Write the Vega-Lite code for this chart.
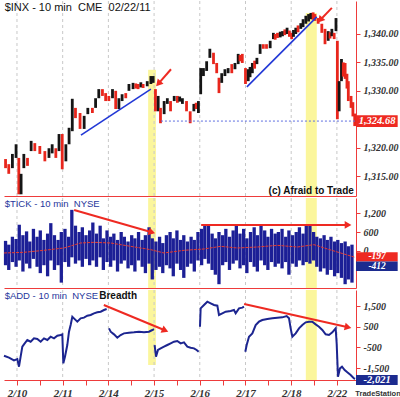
{
"$schema": "https://vega.github.io/schema/vega-lite/v6.json",
"padding": 0,
"spacing": 0,
"background": "white",
"config": {"view": {"stroke": null}, "font": "Liberation Sans", "axis": {"labelOverlap": false, "labelBound": false}},
"datasets": {
"days": [{"t":0},{"t":1},{"t":2},{"t":3},{"t":4},{"t":5},{"t":6},{"t":7}],
"price": [
{"t":-0.25,"lo":1316.4,"hi":1318.0,"dir":"d"},{"t":-0.18,"lo":1315.4,"hi":1317.1,"dir":"d"},{"t":-0.10,"lo":1316.4,"hi":1318.9,"dir":"u"},{"t":-0.02,"lo":1318.2,"hi":1320.6,"dir":"u"},
{"t":0.04,"lo":1311.8,"hi":1318.2,"dir":"d"},{"t":0.09,"lo":1311.8,"hi":1315.4,"dir":"u"},{"t":0.15,"lo":1316.4,"hi":1318.9,"dir":"u"},{"t":0.23,"lo":1316.8,"hi":1318.2,"dir":"d"},
{"t":0.31,"lo":1319.4,"hi":1321.2,"dir":"u"},{"t":0.39,"lo":1319.4,"hi":1320.8,"dir":"d"},{"t":0.50,"lo":1318.9,"hi":1320.3,"dir":"d"},{"t":0.61,"lo":1317.6,"hi":1319.4,"dir":"d"},
{"t":0.70,"lo":1318.2,"hi":1319.9,"dir":"u"},{"t":0.77,"lo":1319.0,"hi":1320.6,"dir":"u"},{"t":0.85,"lo":1318.2,"hi":1319.9,"dir":"d"},{"t":0.92,"lo":1319.4,"hi":1322.4,"dir":"u"},
{"t":0.99,"lo":1316.2,"hi":1322.4,"dir":"d"},{"t":1.07,"lo":1317.6,"hi":1320.6,"dir":"u"},{"t":1.14,"lo":1320.6,"hi":1323.5,"dir":"u"},{"t":1.21,"lo":1322.9,"hi":1328.6,"dir":"u"},
{"t":1.28,"lo":1325.2,"hi":1327.0,"dir":"d"},{"t":1.38,"lo":1323.3,"hi":1326.1,"dir":"d"},{"t":1.47,"lo":1323.3,"hi":1325.6,"dir":"u"},{"t":1.55,"lo":1325.9,"hi":1327.0,"dir":"u"},
{"t":1.65,"lo":1326.1,"hi":1327.0,"dir":"d"},{"t":1.72,"lo":1327.0,"hi":1328.7,"dir":"u"},{"t":1.79,"lo":1328.7,"hi":1330.3,"dir":"u"},{"t":1.87,"lo":1329.1,"hi":1330.3,"dir":"d"},
{"t":1.94,"lo":1328.2,"hi":1329.6,"dir":"d"},{"t":2.01,"lo":1328.2,"hi":1329.1,"dir":"d"},{"t":2.09,"lo":1328.7,"hi":1330.3,"dir":"u"},{"t":2.16,"lo":1326.8,"hi":1330.0,"dir":"d"},
{"t":2.23,"lo":1326.8,"hi":1328.7,"dir":"u"},{"t":2.30,"lo":1328.2,"hi":1329.4,"dir":"u"},{"t":2.38,"lo":1328.7,"hi":1329.6,"dir":"d"},{"t":2.45,"lo":1330.0,"hi":1331.2,"dir":"u"},
{"t":2.54,"lo":1330.3,"hi":1331.4,"dir":"u"},{"t":2.60,"lo":1330.4,"hi":1331.3,"dir":"d"},{"t":2.65,"lo":1330.3,"hi":1331.2,"dir":"d"},{"t":2.71,"lo":1330.6,"hi":1331.5,"dir":"u"},{"t":2.76,"lo":1330.5,"hi":1331.2,"dir":"d"},{"t":2.85,"lo":1330.8,"hi":1331.7,"dir":"u"},
{"t":2.93,"lo":1331.2,"hi":1332.6,"dir":"u"},{"t":2.98,"lo":1331.4,"hi":1332.6,"dir":"u"},{"t":3.03,"lo":1326.4,"hi":1330.3,"dir":"d"},{"t":3.09,"lo":1326.4,"hi":1329.1,"dir":"u"},
{"t":3.14,"lo":1324.3,"hi":1327.0,"dir":"d"},{"t":3.22,"lo":1325.9,"hi":1328.2,"dir":"u"},{"t":3.29,"lo":1327.7,"hi":1328.7,"dir":"u"},{"t":3.36,"lo":1326.4,"hi":1328.2,"dir":"d"},
{"t":3.44,"lo":1328.2,"hi":1329.1,"dir":"u"},{"t":3.51,"lo":1327.9,"hi":1329.1,"dir":"d"},{"t":3.56,"lo":1328.1,"hi":1329.0,"dir":"u"},{"t":3.62,"lo":1327.7,"hi":1328.7,"dir":"u"},{"t":3.71,"lo":1326.4,"hi":1328.2,"dir":"d"},
{"t":3.79,"lo":1324.3,"hi":1326.4,"dir":"d"},{"t":3.87,"lo":1326.4,"hi":1327.7,"dir":"u"},{"t":3.92,"lo":1326.8,"hi":1327.9,"dir":"d"},{"t":3.97,"lo":1326.1,"hi":1328.2,"dir":"u"},{"t":4.02,"lo":1329.4,"hi":1334.0,"dir":"u"},
{"t":4.08,"lo":1332.6,"hi":1334.0,"dir":"u"},{"t":4.15,"lo":1333.5,"hi":1335.2,"dir":"u"},{"t":4.22,"lo":1335.8,"hi":1337.4,"dir":"u"},{"t":4.30,"lo":1334.7,"hi":1336.7,"dir":"d"},
{"t":4.37,"lo":1333.1,"hi":1334.9,"dir":"d"},{"t":4.42,"lo":1329.6,"hi":1332.3,"dir":"d"},{"t":4.48,"lo":1331.4,"hi":1333.1,"dir":"u"},{"t":4.55,"lo":1332.6,"hi":1333.8,"dir":"u"},
{"t":4.62,"lo":1333.1,"hi":1334.0,"dir":"u"},{"t":4.70,"lo":1333.1,"hi":1334.7,"dir":"d"},{"t":4.77,"lo":1333.8,"hi":1334.9,"dir":"u"},{"t":4.84,"lo":1334.7,"hi":1336.5,"dir":"u"},
{"t":4.88,"lo":1335.2,"hi":1336.3,"dir":"d"},{"t":4.93,"lo":1334.9,"hi":1336.5,"dir":"d"},{"t":5.00,"lo":1331.2,"hi":1334.0,"dir":"d"},{"t":5.06,"lo":1331.7,"hi":1333.8,"dir":"u"},{"t":5.10,"lo":1332.4,"hi":1334.2,"dir":"u"},{"t":5.15,"lo":1333.1,"hi":1334.9,"dir":"u"},
{"t":5.20,"lo":1333.9,"hi":1335.3,"dir":"d"},{"t":5.25,"lo":1334.7,"hi":1335.8,"dir":"u"},{"t":5.32,"lo":1336.5,"hi":1338.2,"dir":"u"},{"t":5.39,"lo":1337.4,"hi":1338.2,"dir":"d"},{"t":5.46,"lo":1337.4,"hi":1338.2,"dir":"d"},
{"t":5.54,"lo":1337.5,"hi":1338.8,"dir":"u"},{"t":5.61,"lo":1339.1,"hi":1340.2,"dir":"u"},{"t":5.65,"lo":1339.0,"hi":1340.0,"dir":"d"},{"t":5.70,"lo":1339.3,"hi":1340.2,"dir":"d"},{"t":5.76,"lo":1339.4,"hi":1340.4,"dir":"u"},{"t":5.81,"lo":1339.6,"hi":1340.5,"dir":"u"},
{"t":5.86,"lo":1339.8,"hi":1340.8,"dir":"d"},{"t":5.91,"lo":1340.0,"hi":1341.1,"dir":"u"},{"t":5.96,"lo":1339.5,"hi":1340.6,"dir":"d"},{"t":6.01,"lo":1339.1,"hi":1340.2,"dir":"d"},{"t":6.05,"lo":1339.5,"hi":1340.7,"dir":"u"},{"t":6.10,"lo":1340.0,"hi":1341.1,"dir":"u"},
{"t":6.15,"lo":1340.3,"hi":1341.5,"dir":"d"},{"t":6.21,"lo":1340.9,"hi":1341.9,"dir":"u"},{"t":6.26,"lo":1341.2,"hi":1342.6,"dir":"u"},{"t":6.32,"lo":1341.8,"hi":1343.2,"dir":"u"},{"t":6.38,"lo":1342.2,"hi":1343.5,"dir":"u"},{"t":6.43,"lo":1342.6,"hi":1343.7,"dir":"u"},
{"t":6.48,"lo":1342.5,"hi":1343.8,"dir":"d"},{"t":6.52,"lo":1342.3,"hi":1343.5,"dir":"d"},{"t":6.59,"lo":1341.8,"hi":1342.8,"dir":"d"},
{"t":6.67,"lo":1340.2,"hi":1341.8,"dir":"d"},{"t":6.74,"lo":1338.2,"hi":1340.9,"dir":"d"},{"t":6.81,"lo":1338.8,"hi":1340.5,"dir":"u"},{"t":6.85,"lo":1339.2,"hi":1340.3,"dir":"d"},{"t":6.89,"lo":1339.6,"hi":1340.9,"dir":"u"},
{"t":6.94,"lo":1339.1,"hi":1340.2,"dir":"d"},{"t":6.98,"lo":1340.5,"hi":1342.8,"dir":"u"},{"t":7.01,"lo":1325.0,"hi":1338.8,"dir":"d"},{"t":7.05,"lo":1326.4,"hi":1331.7,"dir":"u"},
{"t":7.10,"lo":1331.7,"hi":1335.6,"dir":"u"},{"t":7.14,"lo":1332.5,"hi":1335.0,"dir":"d"},{"t":7.18,"lo":1332.1,"hi":1334.9,"dir":"d"},{"t":7.22,"lo":1330.4,"hi":1333.0,"dir":"d"},{"t":7.25,"lo":1328.2,"hi":1331.7,"dir":"d"},{"t":7.31,"lo":1327.0,"hi":1329.1,"dir":"d"},
{"t":7.35,"lo":1325.5,"hi":1328.0,"dir":"d"},{"t":7.39,"lo":1323.8,"hi":1326.0,"dir":"d"}
],
"bands1": [{"t":2.87,"t2":3.04,"lo":1311.5,"hi":1333.7},{"t":6.32,"t2":6.56,"lo":1311.5,"hi":1343.7}],
"lines1": [{"t":1.40,"p":1322.2,"t2":2.93,"p2":1330.3},{"t":5.03,"p":1330.7,"t2":6.56,"p2":1343.0}],
"dotted1": [{"t":3.15,"p":1324.68,"t2":7.418,"p2":1324.68}],
"arrows1": [{"t":3.37,"p":1333.8,"t2":3.11,"p2":1331.4},{"t":6.89,"p":1344.6,"t2":6.65,"p2":1342.6}],
"title1": [{"t":-0.27,"p":1344.6,"label":"$INX - 10 min\u00a0 CME\u00a0 02/22/11"}],
"copy1": [{"t":7.37,"p":1312.4,"label":"(c) Afraid to Trade"}],
"box1": [{"t":7.418,"t2":8.33,"lo":1323.65,"hi":1325.7,"p":1324.68,"tc":7.88,"label":"1,324.68"}],
"tick": [
{"t":-0.25,"lo":-450,"hi":320},{"t":-0.18,"lo":-600,"hi":200},{"t":-0.10,"lo":-350,"hi":450},{"t":-0.02,"lo":-500,"hi":380},{"t":0.05,"lo":-300,"hi":830},
{"t":0.13,"lo":-650,"hi":500},{"t":0.21,"lo":-400,"hi":620},{"t":0.28,"lo":-550,"hi":300},{"t":0.36,"lo":-250,"hi":700},{"t":0.44,"lo":-500,"hi":450},
{"t":0.51,"lo":-700,"hi":650},{"t":0.59,"lo":-450,"hi":350},{"t":0.67,"lo":-800,"hi":550},{"t":0.74,"lo":-300,"hi":880},{"t":0.82,"lo":-600,"hi":500},
{"t":0.90,"lo":-450,"hi":350},{"t":0.97,"lo":-1000,"hi":600},{"t":1.05,"lo":-350,"hi":700},{"t":1.13,"lo":-500,"hi":450},{"t":1.20,"lo":-200,"hi":1300},
{"t":1.28,"lo":-400,"hi":800},{"t":1.36,"lo":-300,"hi":600},{"t":1.43,"lo":-500,"hi":750},{"t":1.51,"lo":-250,"hi":500},{"t":1.59,"lo":-450,"hi":650},
{"t":1.66,"lo":-300,"hi":900},{"t":1.74,"lo":-500,"hi":550},{"t":1.82,"lo":-200,"hi":800},{"t":1.89,"lo":-600,"hi":400},{"t":1.97,"lo":-350,"hi":650},
{"t":2.05,"lo":-500,"hi":450},{"t":2.12,"lo":-300,"hi":550},{"t":2.20,"lo":-650,"hi":350},{"t":2.28,"lo":-400,"hi":600},{"t":2.35,"lo":-300,"hi":450},
{"t":2.43,"lo":-550,"hi":300},{"t":2.51,"lo":-450,"hi":500},{"t":2.58,"lo":-650,"hi":400},{"t":2.66,"lo":-300,"hi":600},{"t":2.74,"lo":-500,"hi":350},
{"t":2.81,"lo":-700,"hi":500},{"t":2.89,"lo":-400,"hi":750},{"t":2.96,"lo":-900,"hi":400},{"t":3.04,"lo":-600,"hi":300},{"t":3.12,"lo":-500,"hi":450},
{"t":3.19,"lo":-700,"hi":250},{"t":3.27,"lo":-450,"hi":500},{"t":3.35,"lo":-550,"hi":600},{"t":3.42,"lo":-800,"hi":400},{"t":3.50,"lo":-400,"hi":650},
{"t":3.58,"lo":-600,"hi":350},{"t":3.65,"lo":-850,"hi":500},{"t":3.73,"lo":-500,"hi":300},{"t":3.81,"lo":-400,"hi":450},{"t":3.88,"lo":-650,"hi":350},
{"t":3.96,"lo":-300,"hi":600},{"t":4.04,"lo":-450,"hi":700},{"t":4.11,"lo":-250,"hi":850},{"t":4.19,"lo":-400,"hi":800},{"t":4.27,"lo":-600,"hi":550},
{"t":4.34,"lo":-750,"hi":400},{"t":4.42,"lo":-1050,"hi":600},{"t":4.50,"lo":-450,"hi":500},{"t":4.57,"lo":-350,"hi":700},{"t":4.65,"lo":-600,"hi":450},
{"t":4.73,"lo":-400,"hi":650},{"t":4.80,"lo":-300,"hi":800},{"t":4.88,"lo":-550,"hi":550},{"t":4.96,"lo":-450,"hi":700},{"t":5.03,"lo":-700,"hi":400},
{"t":5.11,"lo":-350,"hi":600},{"t":5.19,"lo":-500,"hi":750},{"t":5.26,"lo":-650,"hi":500},{"t":5.34,"lo":-300,"hi":800},{"t":5.42,"lo":-450,"hi":650},
{"t":5.49,"lo":-600,"hi":450},{"t":5.57,"lo":-350,"hi":700},{"t":5.65,"lo":-500,"hi":550},{"t":5.72,"lo":-400,"hi":600},{"t":5.80,"lo":-550,"hi":700},
{"t":5.88,"lo":-350,"hi":450},{"t":5.95,"lo":-750,"hi":650},{"t":6.03,"lo":-400,"hi":500},{"t":6.11,"lo":-500,"hi":600},{"t":6.18,"lo":-300,"hi":750},
{"t":6.26,"lo":-450,"hi":550},{"t":6.33,"lo":-350,"hi":850},{"t":6.41,"lo":-400,"hi":800},{"t":6.49,"lo":-300,"hi":600},{"t":6.56,"lo":-500,"hi":450},
{"t":6.64,"lo":-650,"hi":400},{"t":6.72,"lo":-550,"hi":500},{"t":6.79,"lo":-750,"hi":350},{"t":6.87,"lo":-600,"hi":450},{"t":6.95,"lo":-800,"hi":300},
{"t":7.02,"lo":-700,"hi":350},{"t":7.10,"lo":-850,"hi":250},{"t":7.18,"lo":-1050,"hi":300},{"t":7.25,"lo":-900,"hi":150},{"t":7.33,"lo":-1000,"hi":200}
],
"tickma": [
{"t":-0.284,"v":-63},{"t":0.153,"v":-42},{"t":0.591,"v":21},{"t":1.028,"v":95},{"t":1.393,"v":253},{"t":1.685,"v":274},{"t":2.050,"v":253},
{"t":2.487,"v":147},{"t":2.925,"v":42},{"t":3.217,"v":-63},{"t":3.654,"v":21},{"t":4.092,"v":63},{"t":4.457,"v":147},{"t":4.821,"v":95},
{"t":5.259,"v":126},{"t":5.697,"v":179},{"t":6.134,"v":126},{"t":6.499,"v":200},{"t":6.791,"v":63},{"t":7.082,"v":-63},{"t":7.39,"v":-197}
],
"bands2": [{"t":2.87,"t2":3.04},{"t":6.32,"t2":6.56}],
"arrows2a": [{"t":1.25,"v":1296,"t2":2.93,"v2":600}],
"arrows2b": [{"t":4.03,"v":822,"t2":7.22,"v2":822}],
"title2": [{"t":-0.27,"v":1485,"label":"$TICK - 10 min\u00a0 NYSE"}],
"box2a": [{"t":7.418,"t2":8.33,"lo":-330,"hi":-40,"v":-160,"tc":7.88,"label":"-197"}],
"box2b": [{"t":7.418,"t2":8.33,"lo":-630,"hi":-330,"v":-480,"tc":7.88,"label":"-412"}],
"add": [
{"seg":"a","t":-0.284,"v":-904},{"seg":"a","t":-0.175,"v":-1000},{"seg":"a","t":-0.066,"v":-1129},{"seg":"a","t":0.007,"v":-1065},{"seg":"a","t":0.044,"v":-1436},
{"seg":"a","t":0.080,"v":-952},{"seg":"a","t":0.117,"v":-468},{"seg":"a","t":0.153,"v":-355},{"seg":"a","t":0.226,"v":-145},{"seg":"a","t":0.299,"v":-226},
{"seg":"a","t":0.372,"v":-65},{"seg":"a","t":0.445,"v":-97},{"seg":"a","t":0.518,"v":-226},{"seg":"a","t":0.591,"v":-65},{"seg":"a","t":0.664,"v":-145},
{"seg":"a","t":0.737,"v":16},{"seg":"a","t":0.810,"v":-65},{"seg":"a","t":0.883,"v":64},{"seg":"a","t":0.956,"v":97},{"seg":"a","t":0.992,"v":129},
{"seg":"a","t":1.014,"v":-1275},{"seg":"a","t":1.050,"v":-952},{"seg":"a","t":1.101,"v":-387},{"seg":"a","t":1.138,"v":258},{"seg":"a","t":1.174,"v":581},
{"seg":"a","t":1.211,"v":984},{"seg":"a","t":1.247,"v":904},{"seg":"a","t":1.320,"v":742},{"seg":"a","t":1.393,"v":904},{"seg":"a","t":1.466,"v":936},
{"seg":"a","t":1.539,"v":1032},{"seg":"a","t":1.612,"v":1065},{"seg":"a","t":1.685,"v":1145},{"seg":"a","t":1.758,"v":1194},{"seg":"a","t":1.831,"v":1226},
{"seg":"a","t":1.904,"v":1307},{"seg":"a","t":1.962,"v":1355},
{"seg":"b","t":2.013,"v":419},{"seg":"b","t":2.050,"v":258},{"seg":"b","t":2.123,"v":129},{"seg":"b","t":2.195,"v":-32},{"seg":"b","t":2.268,"v":97},
{"seg":"b","t":2.341,"v":177},{"seg":"b","t":2.451,"v":210},{"seg":"b","t":2.560,"v":226},{"seg":"b","t":2.670,"v":258},{"seg":"b","t":2.779,"v":226},
{"seg":"b","t":2.888,"v":258},{"seg":"b","t":2.961,"v":339},{"seg":"b","t":2.998,"v":387},
{"seg":"c","t":3.012,"v":-387},{"seg":"c","t":3.042,"v":-952},{"seg":"c","t":3.085,"v":-629},{"seg":"c","t":3.144,"v":-549},{"seg":"c","t":3.217,"v":-468},
{"seg":"c","t":3.290,"v":-387},{"seg":"c","t":3.363,"v":-307},{"seg":"c","t":3.435,"v":-226},{"seg":"c","t":3.508,"v":-194},{"seg":"c","t":3.581,"v":-307},
{"seg":"c","t":3.654,"v":-258},{"seg":"c","t":3.727,"v":-468},{"seg":"c","t":3.800,"v":-516},{"seg":"c","t":3.873,"v":-549},{"seg":"c","t":3.931,"v":-629},
{"seg":"c","t":3.975,"v":-710},
{"seg":"d","t":4.004,"v":500},{"seg":"d","t":4.019,"v":1387},{"seg":"d","t":4.092,"v":1549},{"seg":"d","t":4.165,"v":1710},{"seg":"d","t":4.238,"v":1629},
{"seg":"d","t":4.311,"v":1549},{"seg":"d","t":4.384,"v":1517},{"seg":"d","t":4.420,"v":1065},{"seg":"d","t":4.493,"v":1145},{"seg":"d","t":4.566,"v":1226},
{"seg":"d","t":4.675,"v":1258},{"seg":"d","t":4.748,"v":1307},{"seg":"d","t":4.785,"v":1145},{"seg":"d","t":4.858,"v":1387},{"seg":"d","t":4.931,"v":1420},
{"seg":"d","t":4.967,"v":1468},
{"seg":"e","t":4.996,"v":-710},{"seg":"e","t":5.026,"v":-387},{"seg":"e","t":5.077,"v":16},{"seg":"e","t":5.150,"v":177},{"seg":"e","t":5.223,"v":581},
{"seg":"e","t":5.295,"v":742},{"seg":"e","t":5.368,"v":823},{"seg":"e","t":5.478,"v":871},{"seg":"e","t":5.587,"v":904},{"seg":"e","t":5.697,"v":936},
{"seg":"e","t":5.806,"v":952},{"seg":"e","t":5.901,"v":1016},{"seg":"e","t":5.952,"v":904},{"seg":"e","t":5.988,"v":419},{"seg":"e","t":6.025,"v":16},
{"seg":"e","t":6.098,"v":177},{"seg":"e","t":6.171,"v":419},{"seg":"e","t":6.244,"v":581},{"seg":"e","t":6.317,"v":710},{"seg":"e","t":6.389,"v":742},
{"seg":"e","t":6.462,"v":742},{"seg":"e","t":6.535,"v":613},{"seg":"e","t":6.608,"v":500},{"seg":"e","t":6.681,"v":339},{"seg":"e","t":6.754,"v":129},
{"seg":"e","t":6.827,"v":97},{"seg":"e","t":6.900,"v":226},{"seg":"e","t":6.973,"v":419},{"seg":"e","t":6.995,"v":-307},{"seg":"e","t":7.024,"v":-1920},
{"seg":"e","t":7.068,"v":-1517},{"seg":"e","t":7.112,"v":-1436},{"seg":"e","t":7.170,"v":-1597},{"seg":"e","t":7.228,"v":-1710},{"seg":"e","t":7.301,"v":-1839},
{"seg":"e","t":7.374,"v":-2000},{"seg":"e","t":7.40,"v":-2021}
],
"bands3": [{"t":2.87,"t2":3.04,"lo":-1355,"hi":2275},{"t":6.32,"t2":6.56,"lo":-2080,"hi":2275}],
"arrows3a": [{"t":1.90,"v":1549,"t2":3.22,"v2":339}],
"arrows3b": [{"t":4.97,"v":1597,"t2":7.22,"v2":484}],
"title3": [{"t":-0.27,"v":1984,"label":"$ADD - 10 min\u00a0 NYSE"}],
"breadth3": [{"t":1.80,"v":1984,"label":"Breadth"}],
"box3": [{"t":7.418,"t2":8.33,"lo":-2320,"hi":-1840,"v":-2080,"tc":7.88,"label":"-2,021"}],
"brand3": [{"t":7.90,"v":-2759,"label":"TradeStation"}]
},
"vconcat": [
{
"width": 352, "height": 195,
"layer": [
{"data": {"name": "bands1"}, "mark": {"type": "rect", "color": "#fbf69c"},
 "encoding": {"x": {"field": "t", "type": "quantitative", "title": null}, "x2": {"field": "t2"},
  "y": {"field": "lo", "type": "quantitative", "title": null}, "y2": {"field": "hi"}}},
{"data": {"name": "days"}, "mark": {"type": "rule", "color": "#c8c8c8", "strokeDash": [3, 3], "strokeWidth": 1},
 "encoding": {"x": {"field": "t", "type": "quantitative", "title": null}}},
{"data": {"name": "price"}, "mark": {"type": "rule", "strokeWidth": 2.8},
 "encoding": {
  "x": {"field": "t", "type": "quantitative", "scale": {"domain": [-0.284, 7.418], "nice": false, "zero": false},
   "axis": {"orient": "bottom", "labels": false, "ticks": false, "grid": false, "title": null, "domainColor": "#ee3b3b", "domainWidth": 1}},
  "y": {"field": "lo", "type": "quantitative", "scale": {"domain": [1311.5, 1345.8], "nice": false, "zero": false},
   "axis": {"orient": "right", "values": [1315, 1320, 1330, 1335, 1340], "tickCount": 20, "format": ",.2f", "title": null, "grid": false, "domainColor": "#ee3b3b", "tickColor": "#ee3b3b", "tickSize": 4, "labelFont": "Liberation Serif", "labelFontStyle": "italic", "labelFontWeight": "bold", "labelFontSize": 10, "labelColor": "#333333", "labelPadding": 3, "labelOverlap": false}},
  "y2": {"field": "hi"},
  "color": {"field": "dir", "type": "nominal", "scale": {"domain": ["u", "d"], "range": ["#151515", "#e8261c"]}, "legend": null}}},
{"data": {"name": "lines1"}, "mark": {"type": "rule", "color": "#2238d6", "strokeWidth": 1.6},
 "encoding": {"x": {"field": "t", "type": "quantitative", "title": null}, "x2": {"field": "t2"}, "y": {"field": "p", "type": "quantitative", "title": null}, "y2": {"field": "p2"}}},
{"data": {"name": "dotted1"}, "mark": {"type": "rule", "color": "#5f6fe0", "strokeWidth": 1, "strokeDash": [2, 2]},
 "encoding": {"x": {"field": "t", "type": "quantitative", "title": null}, "x2": {"field": "t2"}, "y": {"field": "p", "type": "quantitative", "title": null}, "y2": {"field": "p2"}}},
{"data": {"name": "arrows1"}, "mark": {"type": "rule", "color": "#ee2a22", "strokeWidth": 2},
 "encoding": {"x": {"field": "t", "type": "quantitative", "title": null}, "x2": {"field": "t2"}, "y": {"field": "p", "type": "quantitative", "title": null}, "y2": {"field": "p2"}}},
{"data": {"name": "arrows1"}, "mark": {"type": "point", "shape": "triangle", "angle": 222, "filled": true, "size": 60, "color": "#ee2a22", "opacity": 1},
 "encoding": {"x": {"field": "t2", "type": "quantitative", "title": null}, "y": {"field": "p2", "type": "quantitative", "title": null}}},
{"data": {"name": "title1"}, "mark": {"type": "text", "align": "left", "baseline": "middle", "fontSize": 11, "color": "#111111", "font": "Liberation Sans"},
 "encoding": {"x": {"field": "t", "type": "quantitative", "title": null}, "y": {"field": "p", "type": "quantitative", "title": null}, "text": {"field": "label"}}},
{"data": {"name": "copy1"}, "mark": {"type": "text", "align": "right", "baseline": "middle", "fontSize": 10, "fontWeight": "bold", "color": "#111111", "font": "Liberation Sans"},
 "encoding": {"x": {"field": "t", "type": "quantitative", "title": null}, "y": {"field": "p", "type": "quantitative", "title": null}, "text": {"field": "label"}}},
{"data": {"name": "box1"}, "mark": {"type": "rect", "color": "#ee2a22"},
 "encoding": {"x": {"field": "t", "type": "quantitative", "title": null}, "x2": {"field": "t2"}, "y": {"field": "lo", "type": "quantitative", "title": null}, "y2": {"field": "hi"}}},
{"data": {"name": "box1"}, "mark": {"type": "text", "align": "center", "baseline": "middle", "fontSize": 10.5, "fontStyle": "italic", "fontWeight": "bold", "font": "Liberation Serif", "color": "white"},
 "encoding": {"x": {"field": "tc", "type": "quantitative", "title": null}, "y": {"field": "p", "type": "quantitative", "title": null}, "text": {"field": "label"}}}
]
},
{
"width": 352, "height": 90,
"layer": [
{"data": {"name": "bands2"}, "mark": {"type": "rect", "color": "#fbf69c"},
 "encoding": {"x": {"field": "t", "type": "quantitative", "title": null}, "x2": {"field": "t2"}}},
{"data": {"name": "days"}, "mark": {"type": "rule", "color": "#c8c8c8", "strokeDash": [3, 3], "strokeWidth": 1},
 "encoding": {"x": {"field": "t", "type": "quantitative", "title": null}}},
{"data": {"name": "tick"}, "mark": {"type": "rule", "strokeWidth": 3.3, "color": "#1c1f96"},
 "encoding": {
  "x": {"field": "t", "type": "quantitative", "scale": {"domain": [-0.284, 7.418], "nice": false, "zero": false},
   "axis": {"orient": "bottom", "labels": false, "ticks": false, "grid": false, "title": null, "domainColor": "#ee3b3b", "domainWidth": 1}},
  "y": {"field": "lo", "type": "quantitative", "scale": {"domain": [-1170, 1675], "nice": false, "zero": false},
   "axis": {"orient": "right", "values": [0, 600, 1200], "tickCount": 20, "format": ",d", "title": null, "grid": false, "domainColor": "#ee3b3b", "tickColor": "#ee3b3b", "tickSize": 4, "labelFont": "Liberation Serif", "labelFontStyle": "italic", "labelFontWeight": "bold", "labelFontSize": 10, "labelColor": "#333333", "labelPadding": 3, "labelOverlap": false}},
  "y2": {"field": "hi"}}},
{"data": {"name": "tickma"}, "mark": {"type": "line", "color": "#e53a30", "strokeWidth": 1, "strokeDash": [3, 1]},
 "encoding": {"x": {"field": "t", "type": "quantitative", "title": null}, "y": {"field": "v", "type": "quantitative", "title": null}}},
{"data": {"name": "arrows2a"}, "mark": {"type": "rule", "color": "#ee2a22", "strokeWidth": 2},
 "encoding": {"x": {"field": "t", "type": "quantitative", "title": null}, "x2": {"field": "t2"}, "y": {"field": "v", "type": "quantitative", "title": null}, "y2": {"field": "v2"}}},
{"data": {"name": "arrows2a"}, "mark": {"type": "point", "shape": "triangle", "angle": 106, "filled": true, "size": 60, "color": "#ee2a22", "opacity": 1},
 "encoding": {"x": {"field": "t2", "type": "quantitative", "title": null}, "y": {"field": "v2", "type": "quantitative", "title": null}}},
{"data": {"name": "arrows2b"}, "mark": {"type": "rule", "color": "#ee2a22", "strokeWidth": 2},
 "encoding": {"x": {"field": "t", "type": "quantitative", "title": null}, "x2": {"field": "t2"}, "y": {"field": "v", "type": "quantitative", "title": null}, "y2": {"field": "v2"}}},
{"data": {"name": "arrows2b"}, "mark": {"type": "point", "shape": "triangle", "angle": 90, "filled": true, "size": 60, "color": "#ee2a22", "opacity": 1},
 "encoding": {"x": {"field": "t2", "type": "quantitative", "title": null}, "y": {"field": "v2", "type": "quantitative", "title": null}}},
{"data": {"name": "title2"}, "mark": {"type": "text", "align": "left", "baseline": "middle", "fontSize": 9.5, "color": "#26369c", "font": "Liberation Sans"},
 "encoding": {"x": {"field": "t", "type": "quantitative", "title": null}, "y": {"field": "v", "type": "quantitative", "title": null}, "text": {"field": "label"}}},
{"data": {"name": "box2a"}, "mark": {"type": "rect", "color": "#ee2a22"},
 "encoding": {"x": {"field": "t", "type": "quantitative", "title": null}, "x2": {"field": "t2"}, "y": {"field": "lo", "type": "quantitative", "title": null}, "y2": {"field": "hi"}}},
{"data": {"name": "box2a"}, "mark": {"type": "text", "align": "center", "baseline": "middle", "fontSize": 9.5, "fontStyle": "italic", "fontWeight": "bold", "font": "Liberation Serif", "color": "white"},
 "encoding": {"x": {"field": "tc", "type": "quantitative", "title": null}, "y": {"field": "v", "type": "quantitative", "title": null}, "text": {"field": "label"}}},
{"data": {"name": "box2b"}, "mark": {"type": "rect", "color": "#1c2b8f"},
 "encoding": {"x": {"field": "t", "type": "quantitative", "title": null}, "x2": {"field": "t2"}, "y": {"field": "lo", "type": "quantitative", "title": null}, "y2": {"field": "hi"}}},
{"data": {"name": "box2b"}, "mark": {"type": "text", "align": "center", "baseline": "middle", "fontSize": 9.5, "fontStyle": "italic", "fontWeight": "bold", "font": "Liberation Serif", "color": "white"},
 "encoding": {"x": {"field": "tc", "type": "quantitative", "title": null}, "y": {"field": "v", "type": "quantitative", "title": null}, "text": {"field": "label"}}}
]
},
{
"width": 352, "height": 90,
"layer": [
{"data": {"name": "bands3"}, "mark": {"type": "rect", "color": "#fbf69c"},
 "encoding": {"x": {"field": "t", "type": "quantitative", "title": null}, "x2": {"field": "t2"},
  "y": {"field": "lo", "type": "quantitative", "title": null}, "y2": {"field": "hi"}}},
{"data": {"name": "days"}, "mark": {"type": "rule", "color": "#c8c8c8", "strokeDash": [3, 3], "strokeWidth": 1},
 "encoding": {"x": {"field": "t", "type": "quantitative", "title": null}}},
{"data": {"name": "add"}, "mark": {"type": "line", "color": "#1c2590", "strokeWidth": 2},
 "encoding": {
  "x": {"field": "t", "type": "quantitative", "scale": {"domain": [-0.284, 7.418], "nice": false, "zero": false},
   "axis": {"orient": "bottom", "values": [0, 0.5, 1, 1.5, 2, 2.5, 3, 3.5, 4, 4.5, 5, 5.5, 6, 6.5, 7], "tickCount": 40, "labelExpr": "datum.value % 1 == 0 ? ['2/10','2/11','2/14','2/15','2/16','2/17','2/18','2/22'][datum.value] : ''", "grid": false, "title": null, "domainColor": "#ee3b3b", "tickColor": "#ee3b3b", "tickSize": 5, "labelFont": "Liberation Serif", "labelFontStyle": "italic", "labelFontWeight": "bold", "labelFontSize": 11, "labelColor": "#333333", "labelPadding": 2, "labelOverlap": false, "labelFlush": false}},
  "y": {"field": "v", "type": "quantitative", "scale": {"domain": [-2080, 2275], "nice": false, "zero": false},
   "axis": {"orient": "right", "values": [1500, 500, -500, -1500], "tickCount": 20, "format": ",d", "labelExpr": "replace(datum.label, '\u2212', '-')", "title": null, "grid": false, "domainColor": "#ee3b3b", "tickColor": "#ee3b3b", "tickSize": 4, "labelFont": "Liberation Serif", "labelFontStyle": "italic", "labelFontWeight": "bold", "labelFontSize": 10, "labelColor": "#333333", "labelPadding": 3, "labelOverlap": false, "labelBound": false}},
  "detail": {"field": "seg", "type": "nominal"}}},
{"data": {"name": "arrows3a"}, "mark": {"type": "rule", "color": "#ee2a22", "strokeWidth": 2},
 "encoding": {"x": {"field": "t", "type": "quantitative", "title": null}, "x2": {"field": "t2"}, "y": {"field": "v", "type": "quantitative", "title": null}, "y2": {"field": "v2"}}},
{"data": {"name": "arrows3a"}, "mark": {"type": "point", "shape": "triangle", "angle": 113, "filled": true, "size": 60, "color": "#ee2a22", "opacity": 1},
 "encoding": {"x": {"field": "t2", "type": "quantitative", "title": null}, "y": {"field": "v2", "type": "quantitative", "title": null}}},
{"data": {"name": "arrows3b"}, "mark": {"type": "rule", "color": "#ee2a22", "strokeWidth": 2},
 "encoding": {"x": {"field": "t", "type": "quantitative", "title": null}, "x2": {"field": "t2"}, "y": {"field": "v", "type": "quantitative", "title": null}, "y2": {"field": "v2"}}},
{"data": {"name": "arrows3b"}, "mark": {"type": "point", "shape": "triangle", "angle": 103, "filled": true, "size": 60, "color": "#ee2a22", "opacity": 1},
 "encoding": {"x": {"field": "t2", "type": "quantitative", "title": null}, "y": {"field": "v2", "type": "quantitative", "title": null}}},
{"data": {"name": "title3"}, "mark": {"type": "text", "align": "left", "baseline": "middle", "fontSize": 9.5, "color": "#26369c", "font": "Liberation Sans"},
 "encoding": {"x": {"field": "t", "type": "quantitative", "title": null}, "y": {"field": "v", "type": "quantitative", "title": null}, "text": {"field": "label"}}},
{"data": {"name": "breadth3"}, "mark": {"type": "text", "align": "left", "baseline": "middle", "fontSize": 10, "fontWeight": "bold", "color": "#111111", "font": "Liberation Sans"},
 "encoding": {"x": {"field": "t", "type": "quantitative", "title": null}, "y": {"field": "v", "type": "quantitative", "title": null}, "text": {"field": "label"}}},
{"data": {"name": "box3"}, "mark": {"type": "rect", "color": "#1c2b8f"},
 "encoding": {"x": {"field": "t", "type": "quantitative", "title": null}, "x2": {"field": "t2"}, "y": {"field": "lo", "type": "quantitative", "title": null}, "y2": {"field": "hi"}}},
{"data": {"name": "box3"}, "mark": {"type": "text", "align": "center", "baseline": "middle", "fontSize": 10.5, "fontStyle": "italic", "fontWeight": "bold", "font": "Liberation Serif", "color": "white"},
 "encoding": {"x": {"field": "tc", "type": "quantitative", "title": null}, "y": {"field": "v", "type": "quantitative", "title": null}, "text": {"field": "label"}}},
{"data": {"name": "brand3"}, "mark": {"type": "text", "align": "center", "baseline": "middle", "fontSize": 7.5, "fontWeight": "bold", "color": "#333333", "font": "Liberation Sans"},
 "encoding": {"x": {"field": "t", "type": "quantitative", "title": null}, "y": {"field": "v", "type": "quantitative", "title": null}, "text": {"field": "label"}}}
]
}
]
}
